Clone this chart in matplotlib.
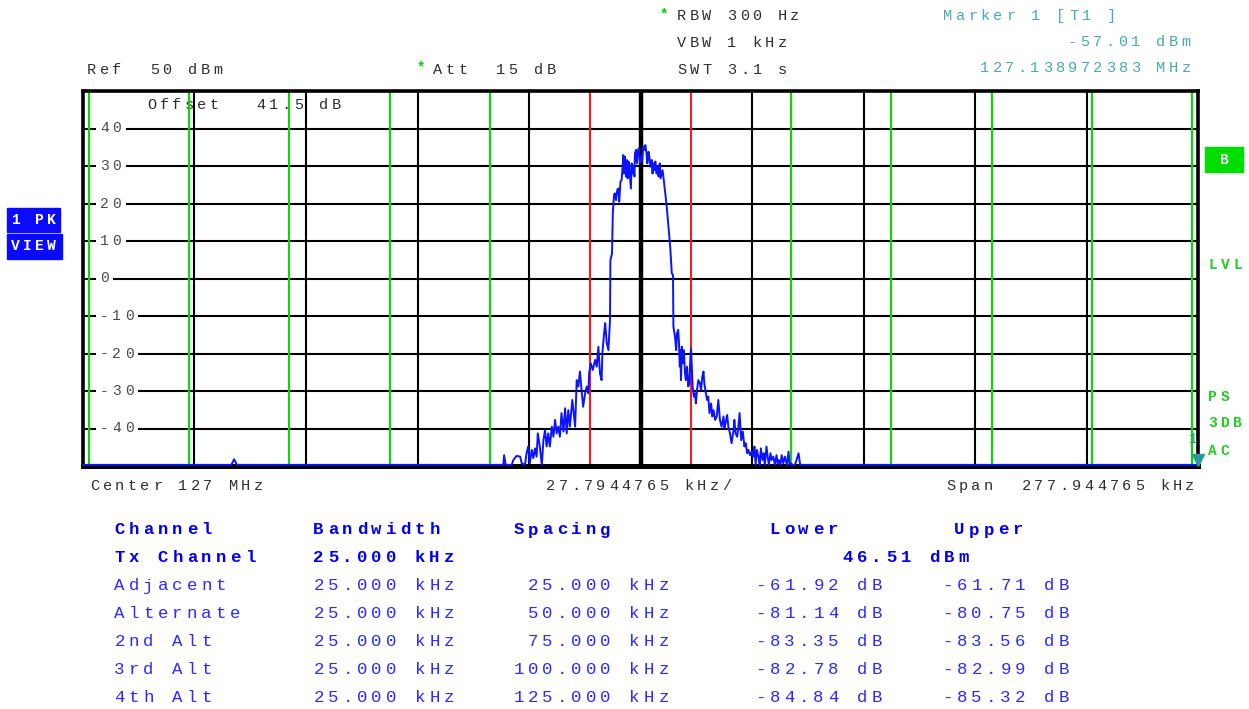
import numpy as np
import matplotlib.pyplot as plt
from matplotlib.patches import Rectangle

# sweep settings (frequency as offset from 127 MHz centre, in kHz)
span_khz = 277.944765
half_span = span_khz / 2
ref_level = 50
div_db = 10
ytick_levels = [40, 30, 20, 10, 0, -10, -20, -30, -40]

# channel power limits
tx_edges = [-12.5, 12.5]
alt_edges = [-137.5, -112.5, -87.5, -62.5, -37.5, 37.5, 62.5, 87.5, 112.5, 137.5]

# trace 1 (PK, view)
trace_khz = [
    -138.97, -102.0, -101.3, -100.6, -34.5, -34.2, -34.0, -33.6, -32.1, -31.7,
    -30.9, -30.0, -29.6, -28.8, -28.4, -28.0, -27.6, -27.1, -26.7, -26.3,
    -25.9, -25.6, -25.1, -24.6, -24.2, -23.8, -23.4, -23.0, -22.6, -22.1,
    -21.7, -21.3, -20.9, -20.5, -20.1, -19.7, -19.2, -18.8, -18.4, -18.0,
    -17.6, -17.0, -16.3, -15.9, -15.5, -15.1, -14.7, -14.3, -13.8, -13.4,
    -13.0, -12.8, -12.4, -11.9, -11.3, -10.9, -10.5, -10.1, -9.7, -9.5,
    -9.0, -8.8, -8.4, -8.0, -7.6, -7.5, -7.1, -6.9, -6.6, -6.4,
    -6.1, -5.8, -5.5, -5.3, -5.0, -4.7, -4.4, -4.3, -4.1, -3.9,
    -3.6, -3.4, -3.2, -3.0, -2.8, -2.4, -2.2, -2.0, -1.8, -1.5,
    -1.4, -1.1, -0.9, -0.6, -0.4, -0.1, 0.1, 0.4, 0.7, 1.0,
    1.2, 1.5, 1.7, 2.0, 2.2, 2.5, 2.8, 3.0, 3.2, 3.5,
    3.7, 4.0, 4.3, 4.5, 4.8, 5.0, 5.3, 5.5, 5.7, 6.5,
    7.4, 7.8, 8.1, 8.2, 8.6, 8.9, 9.1, 9.4, 9.6, 9.8,
    9.9, 10.1, 10.3, 10.5, 10.8, 11.1, 11.3, 11.6, 11.9, 12.2,
    12.4, 12.6, 12.8, 13.0, 13.3, 13.6, 13.8, 14.1, 14.4, 14.8,
    15.1, 15.4, 15.7, 15.9, 16.3, 16.6, 16.9, 17.2, 17.6, 17.9,
    18.2, 18.6, 19.0, 19.4, 19.8, 20.2, 20.7, 20.9, 21.2, 21.6,
    21.9, 22.3, 22.7, 23.2, 23.4, 23.7, 24.1, 24.4, 24.7, 25.1,
    25.5, 25.9, 26.2, 26.6, 26.9, 27.3, 27.7, 28.1, 28.4, 28.7,
    29.0, 29.4, 29.7, 30.0, 30.4, 30.7, 31.0, 31.4, 31.7, 32.0,
    32.4, 32.7, 33.1, 33.5, 33.9, 34.2, 34.5, 34.9, 35.2, 35.6,
    36.0, 36.5, 36.9, 37.2, 37.5, 37.9, 38.5, 38.9, 39.4, 39.8,
    138.97,
]
trace_dbm = [
    -49.7, -49.7, -48.2, -49.7, -49.7, -49.7, -47.1, -49.7, -49.7, -48.4,
    -47.3, -47.5, -49.3, -49.7, -46.6, -44.8, -49.3, -45.7, -47.9, -45.3,
    -47.5, -41.3, -44.8, -49.7, -43.1, -40.4, -44.8, -41.3, -44.8, -39.5,
    -42.2, -37.7, -41.3, -39.5, -42.2, -35.9, -40.8, -34.6, -41.3, -35.1,
    -39.5, -32.4, -39.5, -27.1, -28.8, -24.8, -29.7, -34.2, -30.6, -28.8,
    -30.6, -25.3, -22.6, -24.4, -21.7, -23.5, -18.2, -25.3, -27.1, -19.9,
    -13.7, -11.9, -17.3, -19.1, -11.1, 4.9, 6.7, 17.4, 22.3, 22.7,
    20.9, 23.6, 24.0, 20.5, 25.8, 26.3, 30.7, 32.9, 28.0, 32.5,
    27.2, 31.6, 26.7, 31.2, 29.8, 24.0, 30.7, 28.0, 29.8, 27.2,
    33.4, 34.3, 30.7, 34.3, 34.7, 30.7, 32.5, 31.2, 35.2, 34.3,
    35.6, 33.4, 30.7, 33.8, 32.5, 29.8, 31.6, 28.0, 30.7, 28.9,
    31.2, 28.0, 29.8, 27.2, 30.7, 26.7, 28.0, 28.9, 27.2, 19.6,
    8.5, 1.4, 0.9, -12.8, -15.5, -19.1, -14.6, -13.7, -17.3, -23.5,
    -19.1, -27.1, -18.2, -22.6, -19.1, -25.3, -27.1, -23.5, -28.8, -27.9,
    -21.7, -18.6, -23.5, -28.8, -31.5, -30.6, -33.3, -29.7, -27.1, -27.9,
    -29.7, -26.2, -24.8, -27.9, -30.6, -32.4, -31.5, -35.9, -33.3, -36.8,
    -35.1, -37.7, -36.8, -32.4, -37.7, -39.5, -36.8, -39.9, -38.6, -36.4,
    -39.5, -41.3, -43.9, -40.4, -37.7, -41.3, -42.2, -39.5, -35.9, -43.1,
    -40.8, -44.8, -43.9, -46.6, -45.7, -47.1, -46.2, -47.5, -44.8, -49.7,
    -45.7, -47.5, -49.7, -45.3, -48.4, -46.6, -49.7, -44.8, -47.5, -49.7,
    -46.6, -48.4, -47.5, -49.7, -47.1, -49.3, -48.4, -49.7, -47.1, -49.3,
    -47.5, -49.7, -46.2, -49.7, -49.3, -49.7, -49.7, -48.4, -46.6, -49.7,
    -49.7,
]

# marker 1 (level is below the display, so it sits on the bottom edge)
marker_khz = 138.972383
marker_dbm = -57.01

# ACP results
ch_names = ["Adjacent", "Alternate", "2nd Alt", "3rd Alt", "4th Alt"]
ch_bw = ["25.000 kHz"] * 5
ch_spacing = ["25.000 kHz", "50.000 kHz", "75.000 kHz", "100.000 kHz", "125.000 kHz"]
ch_lower = ["-61.92 dB", "-81.14 dB", "-83.35 dB", "-82.78 dB", "-84.84 dB"]
ch_upper = ["-61.71 dB", "-80.75 dB", "-83.56 dB", "-82.99 dB", "-85.32 dB"]
tx_bw = "25.000 kHz"
tx_power = "46.51 dBm"

W, H = 1249, 709
FONT = "Liberation Mono"
GRAY = "#2e2e2e"
TEAL = "#45abab"
GREEN = "#00dd00"

fig = plt.figure(figsize=(W / 100, H / 100), dpi=100)
fig.patch.set_facecolor("white")

# plot area in pixels: left 83, right 1198, top 91, bottom 466
x0, x1, y0, y1 = 83, 1198, 91, 466
ax = fig.add_axes([x0 / W, 1 - y1 / H, (x1 - x0) / W, (y1 - y0) / H])
ax.set_xlim(-half_span, half_span)
ax.set_ylim(ref_level - 10 * div_db, ref_level)
ax.set_xticks([])
ax.set_yticks([])
for side, sp in ax.spines.items():
    sp.set_linewidth(2.6)
    sp.set_color("black")
ax.spines["bottom"].set_linewidth(3.6)


def spaced(x, y, s, pitch=12.6, size=11, color=GRAY, weight="normal", zorder=3, target=None):
    # draws text on a fixed character grid; x is the left edge of the first character
    target = target or fig
    for i, ch in enumerate(s):
        if ch == " ":
            continue
        target.text((x + 4.5 + i * pitch) / W, 1 - y / H, ch, transform=fig.transFigure,
                    ha="center", va="center", fontsize=size, color=color,
                    fontweight=weight, family=FONT, zorder=zorder)


# vertical grid (10 divisions), thick centre line
for k in range(1, 10):
    xv = -half_span + k * span_khz / 10
    ax.axvline(xv, color="black", lw=3.2 if k == 5 else 1.5, zorder=2)

# horizontal grid broken around the level labels
lab_left = 100
for lev in ytick_levels:
    txt = str(lev)
    start = (lab_left + len(txt) * 12.3 + 1 - x0) / (x1 - x0)
    ax.plot([start, 1], [lev, lev], color="black", lw=1.5,
            transform=ax.get_yaxis_transform(), zorder=2, solid_capstyle="butt")
    ax.plot([0, (96 - x0) / (x1 - x0)], [lev, lev], color="black", lw=1.5,
            transform=ax.get_yaxis_transform(), zorder=2, solid_capstyle="butt")
    ypix = y0 + (ref_level - lev) / (10 * div_db) * (y1 - y0)
    spaced(lab_left, ypix, txt, pitch=12.3, size=10.5, color="#4a4a4a", target=ax)

# channel limit lines
for e in alt_edges:
    ax.axvline(e, color=GREEN, lw=1.5, zorder=2.5)
for e in tx_edges:
    ax.axvline(e, color="#ff1a1a", lw=1.5, zorder=2.5)

ax.plot(trace_khz, trace_dbm, color="#0a14ff", lw=1.4, zorder=4, clip_on=False)

# marker 1 clamped to the bottom edge
mk_level = max(marker_dbm, ref_level - 10 * div_db)
ax.plot([marker_khz], [mk_level + 1.7], marker="v", ms=9, color="#2a9a9a",
        clip_on=False, zorder=5)
ax.text(marker_khz - 1.3, mk_level + 7.3, "1", color="#2a9a9a", fontsize=10, family=FONT,
        ha="center", va="center", clip_on=False, zorder=6)

# instrument header
spaced(147, 105, "Offset", target=ax, zorder=1)
spaced(256, 105, "41.5 dB", target=ax, zorder=1)
spaced(87, 70, "Ref  50 dBm")
fig.text(421 / W, 1 - 67 / H, "*", color="#00cc00", fontsize=10, family=FONT,
         ha="center", va="center", fontweight="bold")
spaced(433, 70, "Att  15 dB")
fig.text(664 / W, 1 - 14 / H, "*", color="#00cc00", fontsize=10, family=FONT,
         ha="center", va="center", fontweight="bold")
spaced(677, 16, "RBW 300 Hz")
spaced(677, 43, "VBW 1 kHz")
spaced(677, 70, "SWT 3.1 s")
spaced(943, 16, "Marker 1 [T1 ]", color=TEAL)
spaced(1068, 42, "-57.01 dBm", color=TEAL)
spaced(980, 68, "127.138972383 MHz", color=TEAL)

# side annotations
for (bx, by, bw, bh), label in [((7, 208, 53, 24), "1 PK"), ((7, 234, 55, 25), "VIEW")]:
    fig.patches.append(Rectangle((bx / W, 1 - (by + bh) / H), bw / W, bh / H,
                                 transform=fig.transFigure, color="#0a0aff", zorder=1))
    spaced(bx + 4, by + bh / 2, label, pitch=12, size=10.5, color="white", weight="bold")
fig.patches.append(Rectangle((1205 / W, 1 - 172 / H), 38 / W, 25 / H,
                             transform=fig.transFigure, color=GREEN, zorder=1))
fig.text(1224 / W, 1 - 159.5 / H, "B", color="white", fontsize=10.5, family=FONT,
         fontweight="bold", ha="center", va="center")
spaced(1208, 265, "LVL", size=10.5, color="#22cc22", weight="bold")
spaced(1208, 397, "PS", size=10.5, color="#22cc22", weight="bold")
spaced(1208, 423, "3DB", size=10.5, color="#22cc22", weight="bold")
spaced(1208, 451, "AC", size=10.5, color="#22cc22", weight="bold")

# frequency axis annotation
spaced(90, 486, "Center 127 MHz")
spaced(546, 486, "27.7944765 kHz/")
spaced(946, 486, "Span  277.944765 kHz")

# ACP table
tp = 14.5
hdr = dict(pitch=tp, size=12.5, color="#0000ee", weight="bold")
row = dict(pitch=tp, size=12.5, color="#2a2aff")
spaced(115, 530, "Channel", **hdr)
spaced(314, 530, "Bandwidth", **hdr)
spaced(514, 530, "Spacing", **hdr)
spaced(770, 530, "Lower", **hdr)
spaced(955, 530, "Upper", **hdr)
spaced(115, 558, "Tx Channel", **hdr)
spaced(314, 558, tx_bw, **hdr)
spaced(843, 558, tx_power, **hdr)
for i, name in enumerate(ch_names):
    yr = 586 + i * 28
    spaced(115, yr, name, **row)
    spaced(314, yr, ch_bw[i], **row)
    spaced(514 + (11 - len(ch_spacing[i])) * tp, yr, ch_spacing[i], **row)
    spaced(756, yr, ch_lower[i], **row)
    spaced(943, yr, ch_upper[i], **row)

fig.savefig("out.png", dpi=100)
